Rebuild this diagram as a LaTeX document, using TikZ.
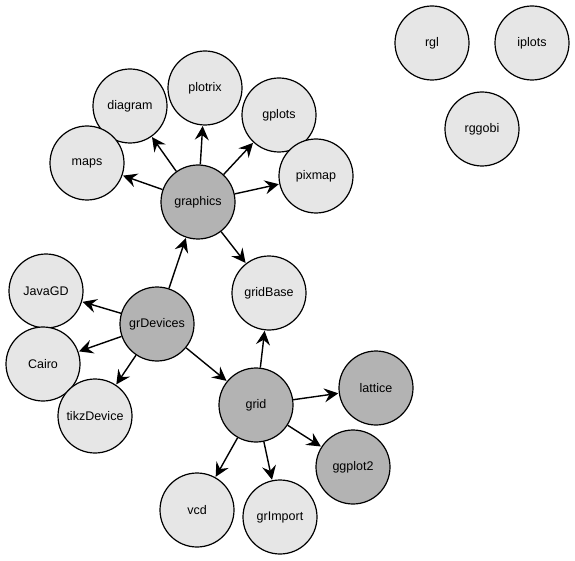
\documentclass[tikz,border=0pt]{standalone}
\usepackage{fontspec}
\setmainfont{Liberation Sans}
\usetikzlibrary{arrows.meta}
\definecolor{PkgLight}{RGB}{230,230,230}
\definecolor{PkgDark}{RGB}{179,179,179}

\begin{document}
\begin{tikzpicture}[
  x=1pt, y=-1pt,
  font=\fontsize{12.5}{14}\selectfont,
  pkg/.style={
    circle,
    draw=black,
    line width=1.2pt,
    fill=PkgLight,
    minimum size=74pt,
    inner sep=0pt,
    align=center
  },
  core/.style={pkg, fill=PkgDark},
  dep/.style={-{Stealth[length=14pt,width=14pt,inset=5pt]}, line width=1.4pt, shorten >=0.5pt}
]

  \useasboundingbox (0,0) rectangle (575,561);

  \node[pkg]  (rgl)       at (432,43)  {rgl};
  \node[pkg]  (iplots)    at (532,43)  {iplots};
  \node[pkg]  (rggobi)    at (482,129) {rggobi};

  \node[pkg]  (plotrix)   at (205,88)  {plotrix};
  \node[pkg]  (diagram)   at (130,106) {diagram};
  \node[pkg]  (gplots)    at (279,115) {gplots};
  \node[pkg]  (maps)      at (87,163)  {maps};
  \node[pkg]  (pixmap)    at (316,176) {pixmap};
  \node[core] (graphics)  at (198,202) {graphics};
  \node[pkg]  (gridBase)  at (269,293) {gridBase};

  \node[pkg]  (JavaGD)    at (46,291)  {JavaGD};
  \node[core] (grDevices) at (157,324) {grDevices};
  \node[pkg]  (Cairo)     at (43,364)  {Cairo};
  \node[pkg]  (tikzDevice) at (95,416) {tikzDevice};

  \node[core] (grid)      at (256,405) {grid};
  \node[core] (lattice)   at (376,388) {lattice};
  \node[core] (ggplot2)   at (353,467) {ggplot2};
  \node[pkg]  (vcd)       at (197,510) {vcd};
  \node[pkg]  (grImport)  at (280,517) {grImport};

  \foreach \t in {maps,diagram,plotrix,gplots,pixmap,gridBase}
    \draw[dep] (graphics) -- (\t);

  \foreach \t in {graphics,JavaGD,Cairo,tikzDevice,grid}
    \draw[dep] (grDevices) -- (\t);

  \foreach \t in {gridBase,lattice,ggplot2,vcd,grImport}
    \draw[dep] (grid) -- (\t);

\end{tikzpicture}
\end{document}
